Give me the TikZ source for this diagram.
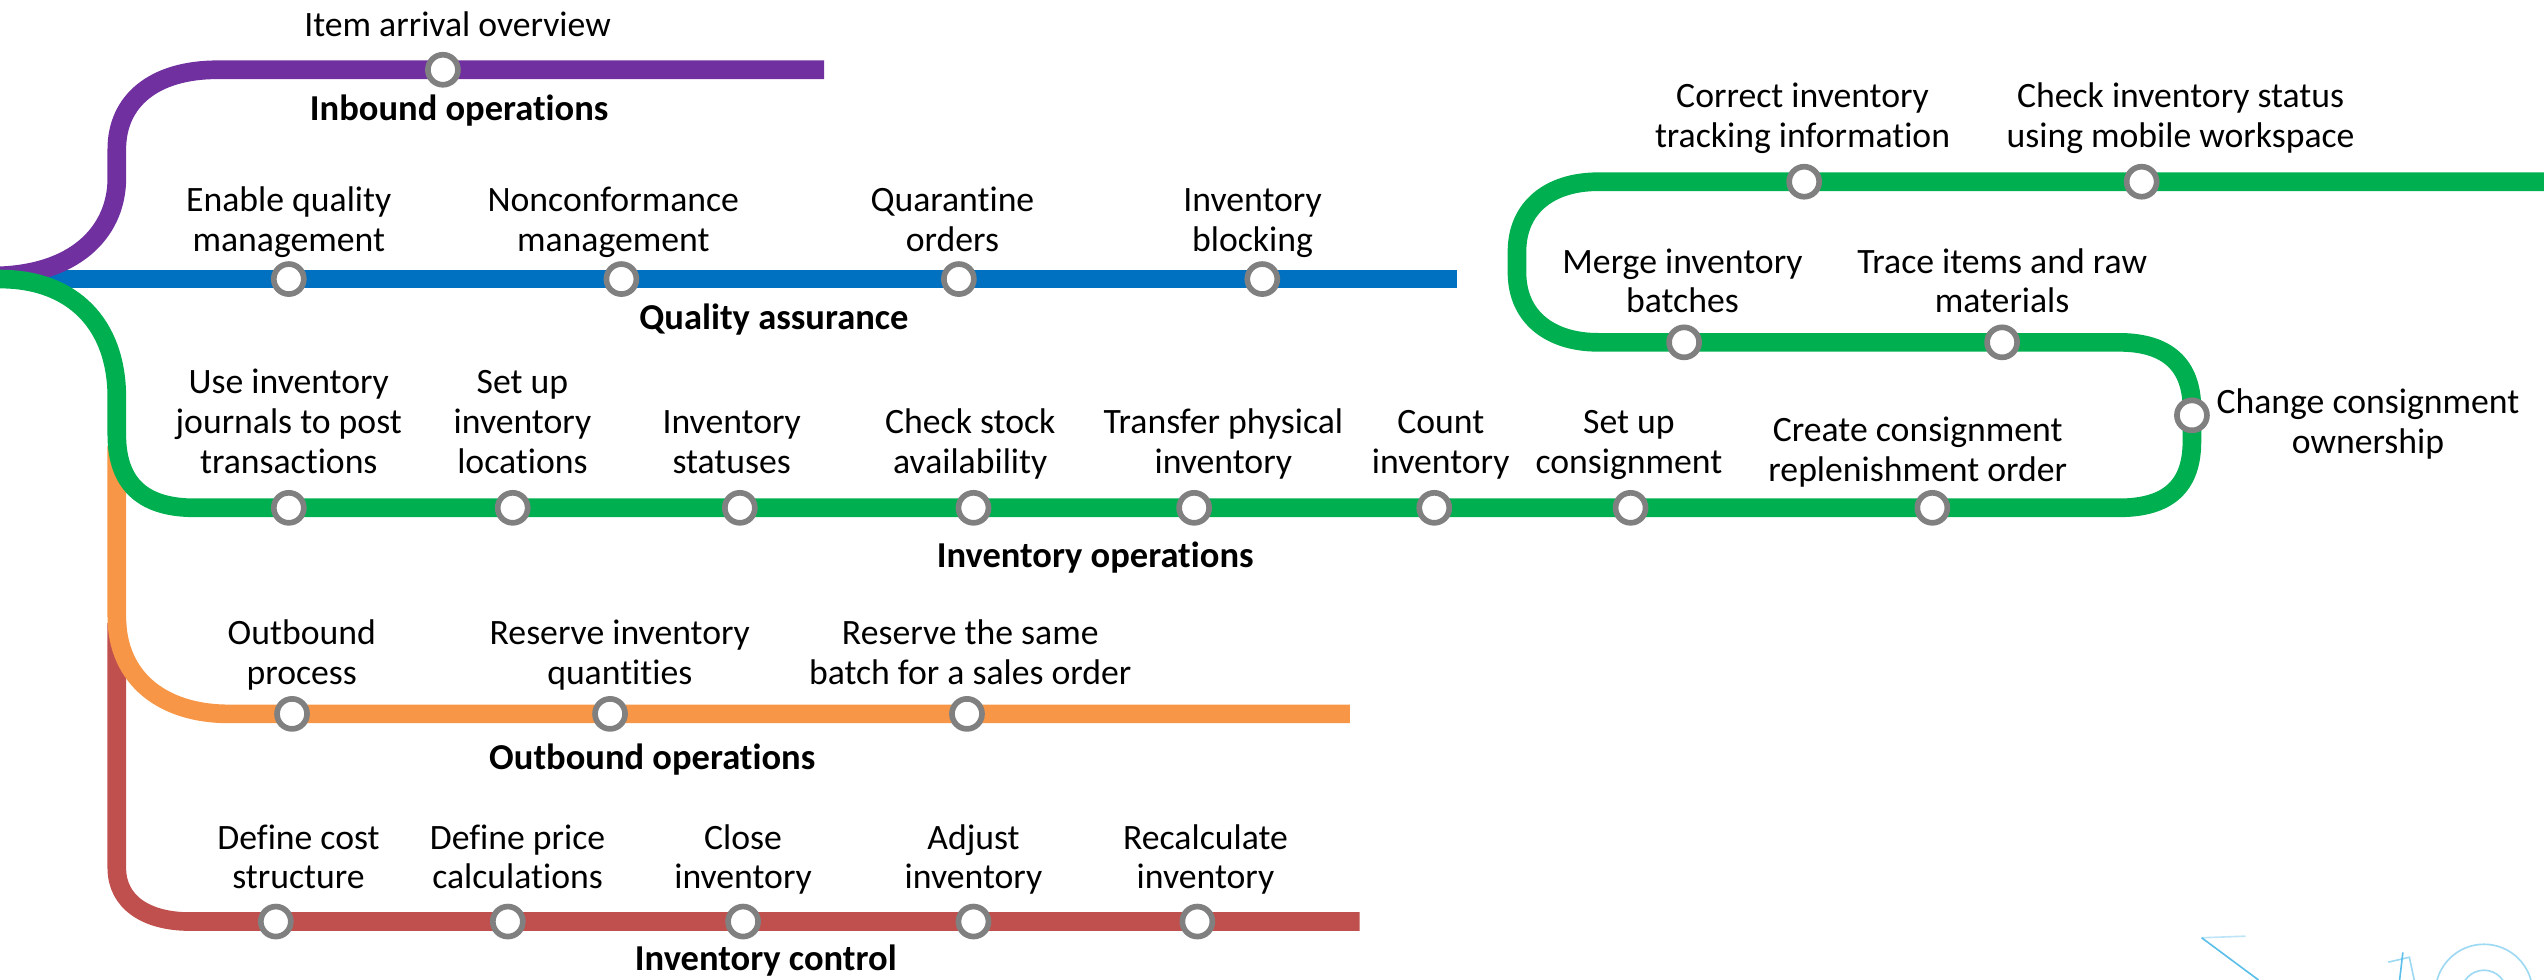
\documentclass[tikz,border=0pt]{standalone}
\usepackage{fontspec}
\setmainfont[Ligatures=NoCommon]{Carlito}
\usetikzlibrary{positioning}

\definecolor{inboundline}{HTML}{7030A0}
\definecolor{qualityline}{HTML}{0070C0}
\definecolor{invopsline}{HTML}{00B050}
\definecolor{outboundline}{HTML}{F79646}
\definecolor{controlline}{HTML}{C0504D}
\definecolor{stopgray}{HTML}{808080}
\definecolor{sketchblue}{HTML}{5BBFEA}

\begin{document}
\begin{tikzpicture}[
        x=1pt, y=-1pt,
        % Lineas del mapa
        metro/.style={
                line width=11.5pt
            },
        % Paradas
        station/.style={
                circle,
                draw=stopgray,
                fill=white,
                line width=3.5pt,
                minimum size=18.5pt,
                inner sep=0pt
            },
        % Textos de las paradas
        stoplabel/.style={
                align=center,
                inner sep=0pt,
                text depth=3pt,
                font=\fontsize{22}{24.5}\selectfont
            },
        % Nombres de las lineas
        linename/.style={
                anchor=base,
                inner sep=0pt,
                font=\bfseries\fontsize{22.5}{26}\selectfont
            },
        % Trazos claros abajo a la derecha
        sketch/.style={
                draw=sketchblue,
                line width=1pt
            }
    ]
    \useasboundingbox (0,0) rectangle (1568,604);

    % Lineas
    \draw[metro, qualityline] (0,172) -- (898,172);
    \draw[metro, inboundline] (0,170) .. controls (50,168) and (72,140) .. (72,110)
        -- (72,92) .. controls (72,62) and (95,43) .. (134,43) -- (508,43);
    \draw[metro, controlline] (72,384) -- (72,535) .. controls (72,556) and (90,568) .. (117,568) -- (838,568);
    \draw[metro, outboundline] (72,275) -- (72,380) .. controls (72,418) and (100,440) .. (141,440) -- (832,440);
    \draw[metro, invopsline] (0,172) .. controls (45,172) and (72,200) .. (72,245)
        -- (72,268) .. controls (72,300) and (90,313) .. (120,313)
        -- (1306,313) .. controls (1336,313) and (1351,300) .. (1351,272)
        -- (1351,252) .. controls (1351,225) and (1336,211) .. (1306,211)
        -- (985,211) .. controls (955,211) and (935,195) .. (935,168)
        -- (935,155) .. controls (935,128) and (955,112) .. (985,112)
        -- (1568,112);

    % Inbound operations
    \node[station] (in1) at (273,43) {};
    \node[stoplabel, above=6pt of in1, xshift=9pt] (in1t) {Item arrival overview};
    \node[linename] (inname) at (283,74) {Inbound operations};

    % Quality assurance
    \node[station] (qa1) at (178,172) {};
    \node[station] (qa2) at (383,172) {};
    \node[station] (qa3) at (591,172) {};
    \node[station] (qa4) at (778,172) {};
    \node[stoplabel, above=3pt of qa1] (qa1t) {Enable quality\\management};
    \node[stoplabel, above=3pt of qa2, xshift=-5pt] (qa2t) {Nonconformance\\management};
    \node[stoplabel, above=3pt of qa3, xshift=-4pt] (qa3t) {Quarantine\\orders};
    \node[stoplabel, above=3pt of qa4, xshift=-6pt] (qa4t) {Inventory\\blocking};
    \node[linename] (qaname) at (477,203) {Quality assurance};

    % Inventory operations
    \node[station] (io1) at (178,313) {};
    \node[station] (io2) at (316,313) {};
    \node[station] (io3) at (456,313) {};
    \node[station] (io4) at (600,313) {};
    \node[station] (io5) at (736,313) {};
    \node[station] (io6) at (884,313) {};
    \node[station] (io7) at (1005,313) {};
    \node[station] (io8) at (1191,313) {};
    \node[station] (io9) at (1351,256) {};
    \node[station] (io10) at (1234,211) {};
    \node[station] (io11) at (1038,211) {};
    \node[station] (io12) at (1112,112) {};
    \node[station] (io13) at (1320,112) {};
    \node[stoplabel, above=7pt of io1] (io1t) {Use inventory\\journals to post\\transactions};
    \node[stoplabel, above=7pt of io2, xshift=6pt] (io2t) {Set up\\inventory\\locations};
    \node[stoplabel, above=7pt of io3, xshift=-5pt] (io3t) {Inventory\\statuses};
    \node[stoplabel, above=7pt of io4, xshift=-2pt] (io4t) {Check stock\\availability};
    \node[stoplabel, above=7pt of io5, xshift=18pt] (io5t) {Transfer physical\\inventory};
    \node[stoplabel, above=7pt of io6, xshift=4pt] (io6t) {Count\\inventory};
    \node[stoplabel, above=7pt of io7, xshift=-1pt] (io7t) {Set up\\consignment};
    \node[stoplabel, above=2pt of io8, xshift=-9pt] (io8t) {Create consignment\\replenishment order};
    \node[stoplabel, right=4pt of io9, yshift=-5pt] (io9t) {Change consignment\\ownership};
    \node[stoplabel, above=4pt of io10] (io10t) {Trace items and raw\\materials};
    \node[stoplabel, above=4pt of io11, xshift=-1pt] (io11t) {Merge inventory\\batches};
    \node[stoplabel, above=7pt of io12, xshift=-1pt] (io12t) {Correct inventory\\tracking information};
    \node[stoplabel, above=7pt of io13, xshift=24pt] (io13t) {Check inventory status\\using mobile workspace};
    \node[linename] (ioname) at (675,350) {Inventory operations};

    % Outbound operations
    \node[station] (ob1) at (180,440) {};
    \node[station] (ob2) at (376,440) {};
    \node[station] (ob3) at (596,440) {};
    \node[stoplabel, above=4pt of ob1, xshift=6pt] (ob1t) {Outbound\\process};
    \node[stoplabel, above=4pt of ob2, xshift=6pt] (ob2t) {Reserve inventory\\quantities};
    \node[stoplabel, above=4pt of ob3, xshift=2pt] (ob3t) {Reserve the same\\batch for a sales order};
    \node[linename] (obname) at (402,474) {Outbound operations};

    % Inventory control
    \node[station] (ic1) at (170,568) {};
    \node[station] (ic2) at (313,568) {};
    \node[station] (ic3) at (458,568) {};
    \node[station] (ic4) at (600,568) {};
    \node[station] (ic5) at (738,568) {};
    \node[stoplabel, above=6pt of ic1, xshift=14pt] (ic1t) {Define cost\\structure};
    \node[stoplabel, above=6pt of ic2, xshift=6pt] (ic2t) {Define price\\calculations};
    \node[stoplabel, above=6pt of ic3] (ic3t) {Close\\inventory};
    \node[stoplabel, above=6pt of ic4] (ic4t) {Adjust\\inventory};
    \node[stoplabel, above=6pt of ic5, xshift=5pt] (ic5t) {Recalculate\\inventory};
    \node[linename] (icname) at (472,598) {Inventory control};

    % Trazos claros
    \draw[sketch] (1357,578) -- (1392,604);
    \draw[sketch, opacity=.4] (1357,578) -- (1384,577);
    \draw[sketch, opacity=.6] (1472,593) -- (1485,590) -- (1488,604);
    \draw[sketch] (1481,587) -- (1479,604);
    \draw[sketch, opacity=.6] (1531,612) circle (30);
    \draw[sketch, opacity=.6] (1531,612) circle (14);

\end{tikzpicture}
\end{document}
